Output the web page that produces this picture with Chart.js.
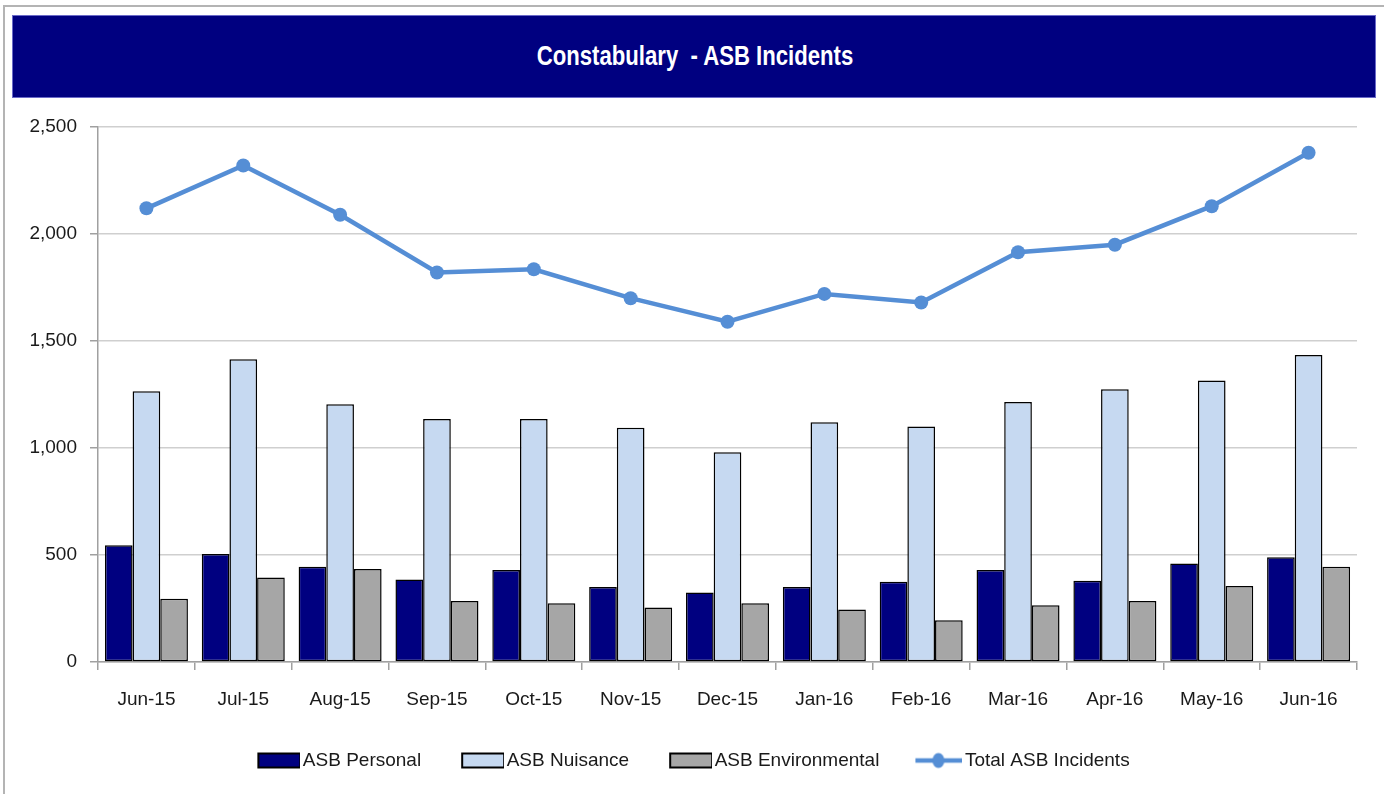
<!DOCTYPE html>
<html>
  <head>
    <title>Constabulary - ASB Incidents</title>
    <script src="https://cdn.jsdelivr.net/npm/chart.js"></script>
    <style>
      html, body {
        margin: 0;
        padding: 0;
        background: #ffffff;
        font-family: "Liberation Sans", Arial, sans-serif;
      }
      .frame {
        position: absolute;
        left: 3px;
        top: 5px;
        width: 1390px;
        height: 800px;
        border: 2px solid #b4b4b4;
        box-sizing: border-box;
      }
      .banner {
        position: absolute;
        left: 12px;
        top: 15px;
        width: 1364px;
        height: 83px;
        background: #000080;
        border: 1px solid #6a6ac8;
        box-sizing: border-box;
        color: #ffffff;
        font-weight: bold;
        font-size: 27px;
        line-height: 81px;
        text-align: center;
        white-space: pre;
      }
      .banner span {
        display: inline-block;
        transform: scaleX(0.82);
        transform-origin: center;
        margin-left: 2px;
      }
      #chart {
        position: absolute;
        left: 0;
        top: 0;
      }
    </style>
  </head>
  <body>
    <div class="frame"></div>
    <div class="banner"><span>Constabulary  - ASB Incidents</span></div>
    <canvas id="chart" width="1384" height="794"></canvas>
    <script>
      // values
      const months = ['Jun-15', 'Jul-15', 'Aug-15', 'Sep-15', 'Oct-15', 'Nov-15', 'Dec-15',
                      'Jan-16', 'Feb-16', 'Mar-16', 'Apr-16', 'May-16', 'Jun-16'];
      const asbPersonal = [545, 505, 445, 385, 430, 350, 325, 350, 375, 430, 380, 460, 490];
      const asbNuisance = [1265, 1415, 1205, 1135, 1135, 1095, 980, 1120, 1100, 1215, 1275, 1315, 1435];
      const asbEnvironmental = [295, 395, 435, 285, 275, 255, 275, 245, 195, 265, 285, 355, 445];
      const totalIncidents = [2120, 2320, 2090, 1820, 1835, 1700, 1590, 1720, 1680, 1915, 1950, 2130, 2380];
      const yTicks = [0, 500, 1000, 1500, 2000, 2500];

      const FONT = '"Liberation Sans", Arial, sans-serif';
      const lineColor = '#558ED5';

      // legend swatches (drawn on small canvases so the line entry shows a line with a dot)
      function boxSwatch(fill) {
        const c = document.createElement('canvas');
        c.width = 80; c.height = 18;
        const g = c.getContext('2d');
        g.fillStyle = fill;
        g.fillRect(38, 2, 42, 14);
        g.strokeStyle = '#000000';
        g.lineWidth = 2;
        g.strokeRect(38, 2, 42, 14);
        return c;
      }
      function lineSwatch() {
        const c = document.createElement('canvas');
        c.width = 80; c.height = 18;
        const g = c.getContext('2d');
        g.strokeStyle = lineColor;
        g.lineWidth = 4.5;
        g.beginPath();
        g.moveTo(33, 9);
        g.lineTo(80, 9);
        g.stroke();
        g.fillStyle = lineColor;
        g.beginPath();
        g.ellipse(56, 9, 6, 7.5, 0, 0, Math.PI * 2);
        g.fill();
        return c;
      }
      const swatches = [boxSwatch('#000080'), boxSwatch('#C6D9F1'), boxSwatch('#A6A6A6'), lineSwatch()];

      const barStyle = {
        borderColor: '#000000',
        borderWidth: 1.5,
        borderSkipped: false,
        categoryPercentage: 0.857,
        barPercentage: 1.0
      };

      const ctx = document.getElementById('chart').getContext('2d');
      new Chart(ctx, {
        data: {
          labels: months,
          datasets: [
            Object.assign({ type: 'bar', label: 'ASB Personal', data: asbPersonal, backgroundColor: '#000080', order: 2 }, barStyle),
            Object.assign({ type: 'bar', label: 'ASB Nuisance', data: asbNuisance, backgroundColor: '#C6D9F1', order: 2 }, barStyle),
            Object.assign({ type: 'bar', label: 'ASB Environmental', data: asbEnvironmental, backgroundColor: '#A6A6A6', order: 2 }, barStyle),
            {
              type: 'line',
              label: 'Total ASB Incidents',
              data: totalIncidents,
              borderColor: lineColor,
              backgroundColor: lineColor,
              borderWidth: 4.5,
              pointRadius: 7,
              pointHoverRadius: 7,
              pointBackgroundColor: lineColor,
              pointBorderWidth: 0,
              tension: 0,
              order: 1
            }
          ]
        },
        options: {
          responsive: false,
          animation: false,
          layout: {
            padding: { left: 0, right: 27, top: 127, bottom: 14 }
          },
          plugins: {
            tooltip: { enabled: false },
            legend: {
              position: 'bottom',
              labels: {
                color: '#1a1a1a',
                font: { family: FONT, size: 19 },
                usePointStyle: true,
                pointStyleWidth: 66,
                padding: 10,
                sort: (a, b) => a.datasetIndex - b.datasetIndex,
                generateLabels: function (chart) {
                  const items = Chart.defaults.plugins.legend.labels.generateLabels(chart);
                  items.forEach(function (it) {
                    it.pointStyle = swatches[it.datasetIndex];
                  });
                  return items;
                }
              }
            }
          },
          scales: {
            x: {
              grid: {
                offset: true,
                drawOnChartArea: false,
                tickLength: 8,
                color: '#a0a0a0',
                lineWidth: 1.5
              },
              border: { color: '#a0a0a0', width: 1.5 },
              ticks: {
                color: '#1a1a1a',
                font: { family: FONT, size: 19 },
                padding: 18,
                maxRotation: 0
              },
              afterFit: function (scale) { scale.height = 79; }
            },
            y: {
              min: 0,
              max: 2500,
              afterBuildTicks: function (scale) {
                scale.ticks = yTicks.map(v => ({ value: v }));
              },
              grid: {
                color: '#cfcfcf',
                lineWidth: 1.5,
                tickLength: 8,
                tickColor: '#a0a0a0'
              },
              border: { color: '#a0a0a0', width: 1.5 },
              ticks: {
                color: '#1a1a1a',
                font: { family: FONT, size: 19 },
                padding: 13,
                callback: v => v.toLocaleString('en-GB')
              },
              afterFit: function (scale) { scale.width = 98; }
            }
          }
        }
      });
    </script>
  </body>
</html>
